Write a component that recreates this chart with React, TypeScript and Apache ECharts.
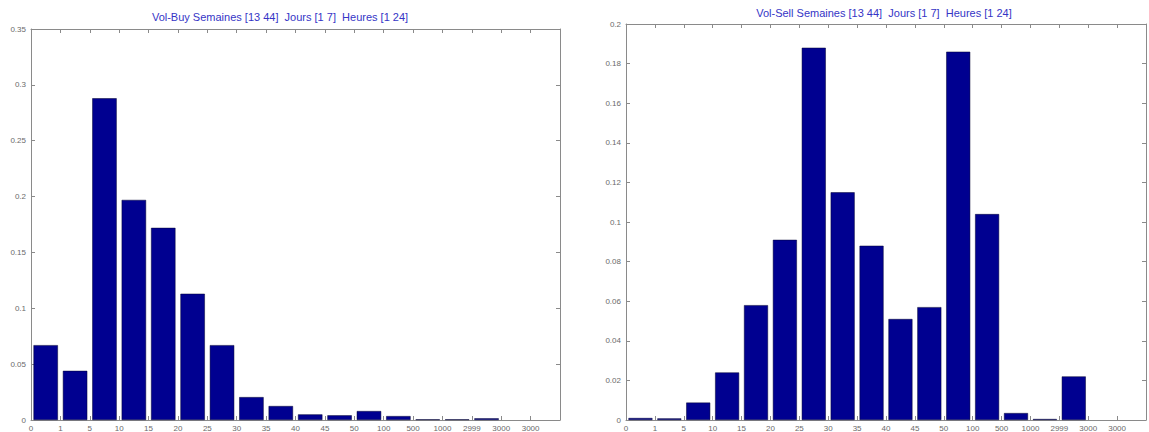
import React, { useEffect, useRef } from "react";
import * as echarts from "echarts";

// Bin edges shown under the bars (17 bins, last slot empty)
const binEdges = ["0", "1", "5", "10", "15", "20", "25", "30", "35", "40", "45", "50", "100", "500", "1000", "2999", "3000", "3000"];

// Relative frequency per volume bin
const buyFreq = [0.067, 0.044, 0.288, 0.197, 0.172, 0.113, 0.067, 0.0205, 0.0125, 0.005, 0.0042, 0.008, 0.0035, 0.0006, 0.0006, 0.0015, 0];
const sellFreq = [0.001, 0.0008, 0.0088, 0.024, 0.058, 0.091, 0.188, 0.115, 0.088, 0.051, 0.057, 0.186, 0.104, 0.0035, 0.0005, 0.022, 0];

const buyTitle = "Vol-Buy Semaines [13 44]  Jours [1 7]  Heures [1 24]";
const sellTitle = "Vol-Sell Semaines [13 44]  Jours [1 7]  Heures [1 24]";

const AXIS_GRAY = "#8a8a8a";
const LABEL_GRAY = "#6a6a6a";
const BAR_FILL = "#000090";

function binSeries(values: number[], axisIndex: number) {
  return {
    type: "bar",
    xAxisIndex: axisIndex * 2,
    yAxisIndex: axisIndex * 2,
    barWidth: "83%",
    itemStyle: { color: BAR_FILL, borderColor: "#000030", borderWidth: 0.5 },
    data: values.map((v, i) => [i + 0.5, v === 0 ? null : v]),
  };
}

function xAxes(gridIndex: number) {
  const common = {
    gridIndex,
    type: "value",
    min: 0,
    max: binEdges.length,
    interval: 1,
    splitLine: { show: false },
    axisLine: { show: true, onZero: false, lineStyle: { color: AXIS_GRAY, width: 1 } },
    axisTick: { show: true, inside: true, length: 4, lineStyle: { color: AXIS_GRAY } },
  };
  return [
    {
      ...common,
      position: "bottom",
      axisLabel: {
        show: true,
        color: LABEL_GRAY,
        fontSize: 8,
        fontFamily: "Liberation Sans, Arial, sans-serif",
        margin: 4,
        showMinLabel: true,
        showMaxLabel: true,
        formatter: (v: number) =>
          Number.isInteger(v) && v < binEdges.length ? binEdges[v] : "",
      },
    },
    { ...common, position: "top", axisLabel: { show: false } },
  ];
}

function yAxes(gridIndex: number, max: number, interval: number) {
  const common = {
    gridIndex,
    type: "value",
    min: 0,
    max,
    interval,
    splitLine: { show: false },
    axisLine: { show: true, onZero: false, lineStyle: { color: AXIS_GRAY, width: 1 } },
    axisTick: { show: true, inside: true, length: 4, lineStyle: { color: AXIS_GRAY } },
  };
  return [
    {
      ...common,
      position: "left",
      axisLabel: {
        show: true,
        color: LABEL_GRAY,
        fontSize: 8,
        fontFamily: "Liberation Sans, Arial, sans-serif",
        margin: 5,
      },
    },
    { ...common, position: "right", axisLabel: { show: false } },
  ];
}

export default function App() {
  const ref = useRef<HTMLDivElement>(null);

  useEffect(() => {
    if (!ref.current) return;
    const chart = echarts.init(ref.current, undefined, { renderer: "svg" });
    const titleStyle = {
      color: "#3535c6",
      fontSize: 11,
      fontWeight: "normal",
      fontFamily: "Liberation Sans, Arial, sans-serif",
    };
    chart.setOption({
      animation: false,
      backgroundColor: "#ffffff",
      title: [
        { text: buyTitle, left: 275, top: 6, textAlign: "center", textStyle: titleStyle },
        { text: sellTitle, left: 879, top: 2, textAlign: "center", textStyle: titleStyle },
      ],
      grid: [
        { left: 31, top: 29, width: 529, height: 392 },
        { left: 626, top: 24, width: 521, height: 397 },
      ],
      xAxis: [...xAxes(0), ...xAxes(1)],
      yAxis: [...yAxes(0, 0.35, 0.05), ...yAxes(1, 0.2, 0.02)],
      series: [binSeries(buyFreq, 0), binSeries(sellFreq, 1)],
    });
    return () => chart.dispose();
  }, []);

  return (
    <div
      ref={ref}
      style={{ position: "absolute", left: 0, top: 0, width: 1149, height: 432, background: "#fff" }}
    />
  );
}
